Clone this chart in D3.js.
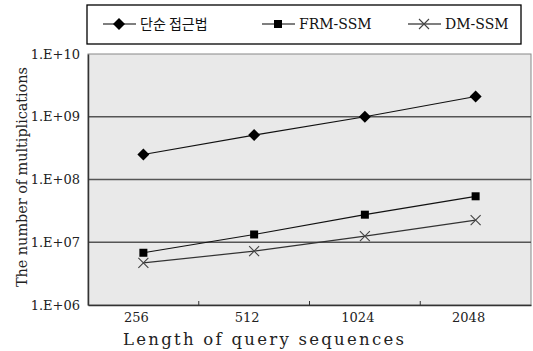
<!DOCTYPE html>
<html>
<head>
<meta charset="utf-8">
<script src="https://cdn.jsdelivr.net/npm/d3@7"></script>
<style>
  body { margin: 0; background: #fff; }
  text { font-family: "DejaVu Serif", "Liberation Serif", serif; }
</style>
</head>
<body>
<svg id="chart" width="533" height="351"></svg>
<script>
// data
const lengths = ['256', '512', '1024', '2048'];
const naive = [2.5e8, 5.1e8, 1.0e9, 2.1e9];
const frmSsm = [6.8e6, 1.33e7, 2.75e7, 5.4e7];
const dmSsm = [4.7e6, 7.2e6, 1.25e7, 2.25e7];
const yTicks = [1e6, 1e7, 1e8, 1e9, 1e10];
const yTickLabels = ['1.E+06', '1.E+07', '1.E+08', '1.E+09', '1.E+10'];
const seriesNames = ['단순 접근법', 'FRM-SSM', 'DM-SSM'];

const series = [
    {name: seriesNames[0], values: naive, marker: 'diamond'},
    {name: seriesNames[1], values: frmSsm, marker: 'square'},
    {name: seriesNames[2], values: dmSsm, marker: 'cross'}
];

const margin = {top: 54, right: 2, bottom: 46, left: 88};
const svg = d3.select('#chart');
const width = +svg.attr('width') - margin.left - margin.right;
const height = +svg.attr('height') - margin.top - margin.bottom;

const g = svg.append('g')
    .attr('transform', `translate(${margin.left}, ${margin.top})`);

const x = d3.scaleBand().domain(lengths).range([0, width]);
const y = d3.scaleLog().domain([1e6, 1e10]).range([height, 0]);

// plot background
g.append('rect')
    .attr('width', width).attr('height', height)
    .attr('fill', '#e9e9e9')
    .attr('stroke', '#888').attr('stroke-width', 1);

// gridlines
g.selectAll('.grid')
    .data(yTicks.slice(1, -1))
    .enter().append('line')
    .attr('x1', 0).attr('x2', width)
    .attr('y1', d => y(d)).attr('y2', d => y(d))
    .attr('stroke', '#555').attr('stroke-width', 1.3);

// y axis
const yAxis = g.append('g')
    .call(d3.axisLeft(y).tickValues(yTicks)
        .tickFormat((d, i) => yTickLabels[i]).tickSize(0).tickPadding(8));
yAxis.select('.domain').attr('stroke', '#333').attr('stroke-width', 1.5);
yAxis.selectAll('text')
    .style('font-size', '13px').style('font-family', '"DejaVu Serif", serif')
    .attr('fill', '#222');

// x axis, ticks between categories
const xAxis = g.append('g')
    .attr('transform', `translate(0, ${height})`)
    .call(d3.axisBottom(x).tickSize(0).tickPadding(8));
xAxis.select('.domain').attr('stroke', '#333').attr('stroke-width', 1.5);
xAxis.selectAll('text')
    .style('font-size', '13px').style('font-family', '"DejaVu Serif", serif')
    .attr('fill', '#222').attr('dx', -7);
g.selectAll('.xtick')
    .data(lengths.slice(1))
    .enter().append('line')
    .attr('x1', d => x(d)).attr('x2', d => x(d))
    .attr('y1', height).attr('y2', height - 4)
    .attr('stroke', '#333');

// axis titles
svg.append('text')
    .attr('x', 123).attr('y', 345)
    .attr('textLength', 281).attr('lengthAdjust', 'spacing')
    .style('font-size', '16.5px').attr('fill', '#222')
    .text('Length of query sequences');
svg.append('text')
    .attr('transform', `translate(27, 287) rotate(-90)`)
    .attr('textLength', 220).attr('lengthAdjust', 'spacing')
    .style('font-size', '14.5px').attr('fill', '#222')
    .text('The number of multiplications');

const line = d3.line()
    .x((d, i) => x(lengths[i]) + x.bandwidth() / 2)
    .y(d => y(d));

function drawMarker(sel, type, cx, cy) {
    if (type === 'diamond') {
        sel.append('path')
            .attr('d', `M${cx},${cy - 6}L${cx + 6},${cy}L${cx},${cy + 6}L${cx - 6},${cy}Z`)
            .attr('fill', '#000');
    } else if (type === 'square') {
        sel.append('rect')
            .attr('x', cx - 4).attr('y', cy - 4).attr('width', 8).attr('height', 8)
            .attr('fill', '#000');
    } else {
        sel.append('path')
            .attr('d', `M${cx - 5},${cy - 5}L${cx + 5},${cy + 5}M${cx - 5},${cy + 5}L${cx + 5},${cy - 5}`)
            .attr('stroke', '#444').attr('stroke-width', 1.1).attr('fill', 'none');
    }
}

series.forEach(s => {
    g.append('path')
        .datum(s.values)
        .attr('d', line)
        .attr('fill', 'none')
        .attr('stroke', s.marker === 'cross' ? '#333' : '#111')
        .attr('stroke-width', 1.2);
    const mg = g.append('g');
    s.values.forEach((v, i) => {
        drawMarker(mg, s.marker, x(lengths[i]) + x.bandwidth() / 2, y(v));
    });
});

// legend
const legend = svg.append('g');
legend.append('rect')
    .attr('x', 87).attr('y', 5).attr('width', 434).attr('height', 39)
    .attr('fill', '#fff').attr('stroke', '#000').attr('stroke-width', 1.3);
const legendX = [103, 262, 408];
series.forEach((s, i) => {
    const lx = legendX[i];
    legend.append('line')
        .attr('x1', lx).attr('x2', lx + 33).attr('y1', 24).attr('y2', 24)
        .attr('stroke', '#000').attr('stroke-width', 1.2);
    drawMarker(legend, s.marker, lx + 16, 24);
    legend.append('text')
        .attr('x', lx + 37).attr('y', 29)
        .style('font-size', '14px').attr('fill', '#111')
        .style('font-family', i === 0 ? '"Noto Sans CJK KR", sans-serif' : '"DejaVu Serif", serif')
        .text(s.name);
});
</script>
</body>
</html>
